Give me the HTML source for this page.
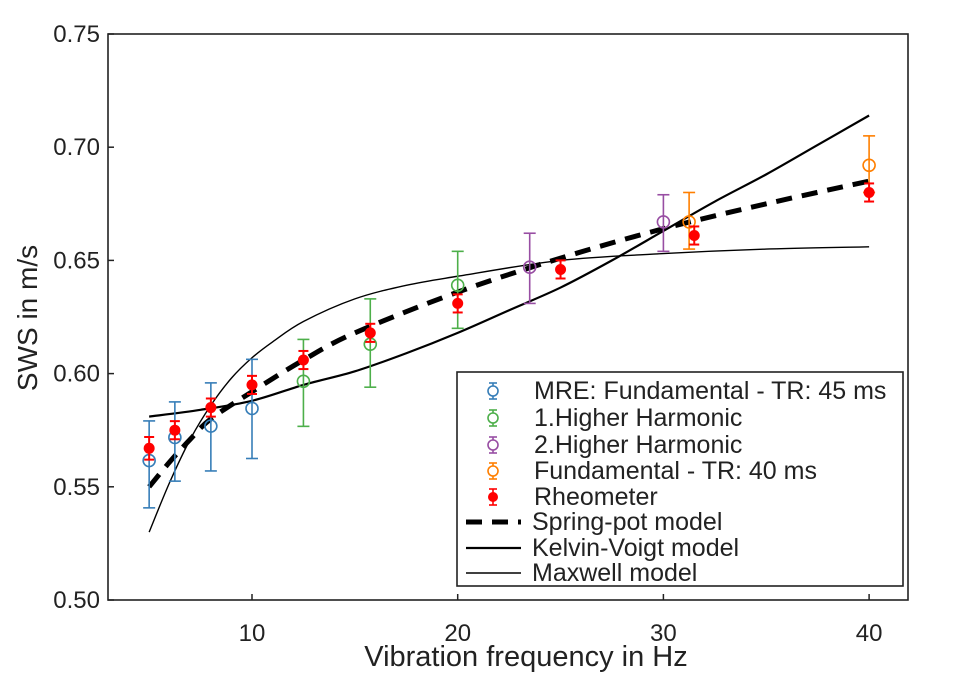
<!DOCTYPE html>
<html><head><meta charset="utf-8"><style>
body{margin:0;background:#fff;}
svg text{font-family:"Liberation Sans",Arial,sans-serif;fill:#222;}
</style></head><body>
<svg id="chart" width="960" height="689" xmlns="http://www.w3.org/2000/svg">
<rect x="0" y="0" width="960" height="689" fill="#fff"/>
<g id="plot"></g>
</svg>
<script>
const xTicks=[10,20,30,40];
const yTicks=[0.50,0.55,0.60,0.65,0.70,0.75];
const yTickLabels=["0.50","0.55","0.60","0.65","0.70","0.75"];
const mreX=[5,6.25,8,10], mreY=[0.5616,0.5718,0.5768,0.5846], mreLo=[0.5407,0.5525,0.557,0.5625], mreHi=[0.5791,0.5875,0.5959,0.6063];
const h1X=[12.5,15.75,20], h1Y=[0.5966,0.613,0.639], h1Lo=[0.5767,0.594,0.620], h1Hi=[0.6151,0.633,0.654];
const h2X=[23.5,30], h2Y=[0.647,0.667], h2Lo=[0.631,0.654], h2Hi=[0.662,0.679];
const f40X=[31.25,40], f40Y=[0.667,0.692], f40Lo=[0.655,0.680], f40Hi=[0.680,0.705];
const rhX=[5,6.25,8,10,12.5,15.75,20,25,31.5,40], rhY=[0.567,0.575,0.585,0.595,0.606,0.618,0.631,0.646,0.661,0.680];
const rhErr=[0.005,0.004,0.004,0.004,0.004,0.004,0.004,0.004,0.004,0.004];
const spX=[5,6,7,8,10,12.5,15,20,25,30,35,40], spY=[0.550,0.561,0.571,0.580,0.592,0.606,0.618,0.636,0.651,0.664,0.675,0.685];
const kvX=[5,7.5,10,12.5,15,17.5,20,22.5,25,27.5,30,32.5,35,37.5,40], kvY=[0.581,0.584,0.588,0.595,0.601,0.609,0.618,0.628,0.638,0.650,0.663,0.676,0.688,0.701,0.714];
const mxX=[5,6,7,8,9,10,11,12.5,15,17.5,20,25,30,35,40], mxY=[0.530,0.552,0.571,0.586,0.598,0.607,0.614,0.623,0.633,0.639,0.643,0.650,0.653,0.655,0.656];

const L=108,R=908,T=34,B=600;
const X=f=>252+(f-10)*20.57;
const Y=v=>B-(v-0.5)*2264;
const NS="http://www.w3.org/2000/svg";
const g=document.getElementById('plot');
function mk(tag,attrs,parent){const e=document.createElementNS(NS,tag);for(const k in attrs)e.setAttribute(k,attrs[k]);(parent||g).appendChild(e);return e;}

function smoothPath(xs,ys){
  const p=xs.map((x,i)=>[X(x),Y(ys[i])]);
  let d='M'+p[0][0]+','+p[0][1];
  for(let i=0;i<p.length-1;i++){
    const p0=p[Math.max(0,i-1)],p1=p[i],p2=p[i+1],p3=p[Math.min(p.length-1,i+2)];
    const c1x=p1[0]+(p2[0]-p0[0])/6,c1y=p1[1]+(p2[1]-p0[1])/6;
    const c2x=p2[0]-(p3[0]-p1[0])/6,c2y=p2[1]-(p3[1]-p1[1])/6;
    d+=' C'+c1x+','+c1y+' '+c2x+','+c2y+' '+p2[0]+','+p2[1];
  }
  return d;
}
function line(xs,ys,w,dash,name){
  const p=mk('path',{d:smoothPath(xs,ys),fill:'none',stroke:'#000','stroke-width':w});
  if(dash)p.setAttribute('stroke-dasharray',dash);
  
  
}
line(kvX,kvY,2.2,null,'kelvin-voigt-line');
line(mxX,mxY,1.4,null,'maxwell-line');
line(spX,spY,5,'16,10','spring-pot-line');

function errSeries(xs,ys,lo,hi,col,name){
  xs.forEach((x,i)=>{
    const cx=X(x);
    const grp=mk('g',{});
    
    
    mk('line',{x1:cx,x2:cx,y1:Y(lo[i]),y2:Y(hi[i]),stroke:col,'stroke-width':1.6},grp);
    mk('line',{x1:cx-6,x2:cx+6,y1:Y(lo[i]),y2:Y(lo[i]),stroke:col,'stroke-width':1.6},grp);
    mk('line',{x1:cx-6,x2:cx+6,y1:Y(hi[i]),y2:Y(hi[i]),stroke:col,'stroke-width':1.6},grp);
    mk('circle',{cx:cx,cy:Y(ys[i]),r:6,fill:'none',stroke:col,'stroke-width':1.6},grp);
  });
}
errSeries(mreX,mreY,mreLo,mreHi,'#377eb8','mre-fundamental');
errSeries(h1X,h1Y,h1Lo,h1Hi,'#4daf4a','higher-harmonic-1');
errSeries(h2X,h2Y,h2Lo,h2Hi,'#984ea3','higher-harmonic-2');
errSeries(f40X,f40Y,f40Lo,f40Hi,'#ff7f00','fundamental-tr40');
rhX.forEach((x,i)=>{
  const cx=X(x),col='#f00';
  const grp=mk('g',{});
  
  
  const lo=Y(rhY[i]-rhErr[i]),hi=Y(rhY[i]+rhErr[i]);
  mk('line',{x1:cx,x2:cx,y1:lo,y2:hi,stroke:col,'stroke-width':2},grp);
  mk('line',{x1:cx-5,x2:cx+5,y1:lo,y2:lo,stroke:col,'stroke-width':2},grp);
  mk('line',{x1:cx-5,x2:cx+5,y1:hi,y2:hi,stroke:col,'stroke-width':2},grp);
  mk('circle',{cx:cx,cy:Y(rhY[i]),r:5.5,fill:col},grp);
});

const fr=mk('rect',{x:L,y:T,width:R-L,height:B-T,fill:'none',stroke:'#222','stroke-width':1.6});

yTicks.forEach((v,i)=>{
  mk('line',{x1:L,x2:L+6,y1:Y(v),y2:Y(v),stroke:'#222','stroke-width':1.5});
  const t=mk('text',{x:100,y:Y(v)+8,'text-anchor':'end','font-size':24});
  t.textContent=yTickLabels[i];
  
});
xTicks.forEach(v=>{
  mk('line',{x1:X(v),x2:X(v),y1:B,y2:B-6,stroke:'#222','stroke-width':1.5});
  const t=mk('text',{x:X(v),y:641,'text-anchor':'middle','font-size':24});
  t.textContent=String(v);
  
});
const xl=mk('text',{x:526,y:666,'text-anchor':'middle','font-size':29});
xl.textContent='Vibration frequency in Hz';

const yl=mk('text',{x:0,y:0,'text-anchor':'middle','font-size':28,transform:'translate(37,318) rotate(-90)'});
yl.textContent='SWS in m/s';


const lg=mk('g',{});

mk('rect',{x:457,y:372,width:446,height:214,fill:'#fff',stroke:'#222','stroke-width':1.6},lg);
const ent=[['MRE: Fundamental - TR: 45 ms','#377eb8','o'],['1.Higher Harmonic','#4daf4a','o'],['2.Higher Harmonic','#984ea3','o'],['Fundamental - TR: 40 ms','#ff7f00','o'],['Rheometer','#f00','f'],['Spring-pot model','#000','d'],['Kelvin-Voigt model','#000','k'],['Maxwell model','#000','m']];
const rows=[391,418,445,471,497,522,548,573];
ent.forEach((e,i)=>{
  const y=rows[i],eg=mk('g',{},lg);
  
  if(e[2]==='o'||e[2]==='f'){
    const cx=493;
    mk('line',{x1:cx,x2:cx,y1:y-8,y2:y+8,stroke:e[1],'stroke-width':1.6},eg);
    mk('line',{x1:cx-4,x2:cx+4,y1:y-8,y2:y-8,stroke:e[1],'stroke-width':1.6},eg);
    mk('line',{x1:cx-4,x2:cx+4,y1:y+8,y2:y+8,stroke:e[1],'stroke-width':1.6},eg);
    if(e[2]==='o')mk('circle',{cx:cx,cy:y,r:5,fill:'#fff',stroke:e[1],'stroke-width':1.6},eg);
    else mk('circle',{cx:cx,cy:y,r:5,fill:e[1]},eg);
  } else {
    const l=mk('line',{x1:466,x2:521,y1:y,y2:y,stroke:'#000','stroke-width':e[2]==='d'?5:(e[2]==='k'?2.2:1.4)},eg);
    if(e[2]==='d')l.setAttribute('stroke-dasharray','16,10');
  }
  const t=mk('text',{x:e[2]==='o'||e[2]==='f'?534:532,y:y+8,'font-size':25},eg);
  t.textContent=e[0];
});
</script>
</body></html>
